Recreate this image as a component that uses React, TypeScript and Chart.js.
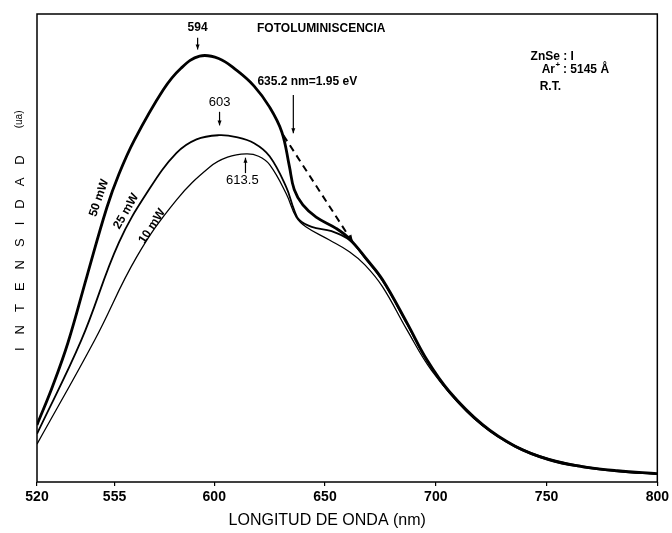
import React, { useEffect, useRef } from "react";
import { Chart, registerables } from "chart.js";

Chart.register(...registerables);

// ---- Data (wavelength in nm, intensity in arbitrary units) ----
const wavelength50 = [520, 527, 534, 542.5, 551.5, 557, 564, 577, 585, 593.4, 602, 610, 618, 625, 630.5, 633.9, 636.1, 640, 646, 655, 661, 669, 676, 687, 696, 706, 721, 736, 751, 766, 782, 800];
const intensity50 = [12.2, 20.4, 29.8, 43.9, 58.6, 65.8, 73.1, 83.8, 88.4, 91.0, 90.5, 88.0, 84.6, 80.1, 74.8, 67.5, 62.5, 59.2, 56.6, 54.2, 52.0, 47.5, 43.2, 34.0, 26.1, 19.4, 12.3, 7.6, 4.8, 3.3, 2.4, 1.8];

const wavelength25 = [520, 540, 557, 571, 583, 592, 602, 610, 618, 625, 632.5, 636.1, 638.4, 644, 653, 661, 669, 676, 687, 696, 706, 721, 736, 751, 766, 782, 800];
const intensity25 = [10.3, 30.3, 51.2, 62.8, 70.3, 73.2, 74.1, 73.7, 72.4, 69.6, 63.0, 58.1, 56.0, 54.5, 53.6, 51.7, 47.3, 43.0, 33.8, 25.9, 19.2, 12.1, 7.5, 4.7, 3.2, 2.3, 1.7];

const wavelength10 = [520, 546, 565, 583, 598, 606, 614.5, 620, 625, 632.5, 637, 641.5, 652, 661, 668, 676, 687, 698, 714, 728, 743, 759, 780, 800];
const intensity10 = [8.1, 30.3, 48.1, 60.3, 67.3, 69.4, 70.1, 69.6, 67.8, 61.6, 56.6, 54.5, 51.7, 49.2, 46.4, 41.7, 32.5, 23.9, 15.0, 9.8, 6.3, 4.1, 2.5, 1.7];

const seriesLabels = ["50 mW", "25 mW", "10 mW"];
const xTickValues = [520, 555, 600, 650, 700, 750, 800];
const peakLabels = ["594", "603", "613.5"];
const transitionLabel = "635.2 nm=1.95 eV";
const chartTitle = "FOTOLUMINISCENCIA";
const sampleLines = ["ZnSe : I", "Ar", "R.T."];
const laserLine = " : 5145 Å";
const xTitle = "LONGITUD DE ONDA (nm)";
const yTitle = "INTENSIDAD";
const yUnit = "(ua)";

const FONT = "'Liberation Sans', Arial, sans-serif";

function arrow(ctx: CanvasRenderingContext2D, x1: number, y1: number, x2: number, y2: number, head = 5, half = 2) {
  ctx.beginPath();
  ctx.moveTo(x1, y1);
  ctx.lineTo(x2, y2);
  ctx.stroke();
  const ang = Math.atan2(y2 - y1, x2 - x1);
  ctx.save();
  ctx.setLineDash([]);
  ctx.translate(x2, y2);
  ctx.rotate(ang);
  ctx.beginPath();
  ctx.moveTo(0, 0);
  ctx.lineTo(-head, -half);
  ctx.lineTo(-head, half);
  ctx.closePath();
  ctx.fill();
  ctx.restore();
}

const annotationPlugin = {
  id: "annotations",
  afterDraw(chart: any) {
    const { ctx, chartArea: a, scales } = chart;
    const X = (v: number) => scales.x.getPixelForValue(v);
    const Y = (v: number) => scales.y.getPixelForValue(v);
    ctx.save();
    ctx.fillStyle = "#000";
    ctx.strokeStyle = "#000";

    // frame
    ctx.lineWidth = 1.5;
    ctx.strokeRect(a.left, a.top, a.right - a.left, a.bottom - a.top);

    const text = (s: string, x: number, y: number, font: string, align: CanvasTextAlign = "center") => {
      ctx.font = font;
      ctx.textAlign = align;
      ctx.textBaseline = "middle";
      ctx.fillText(s, x, y);
    };

    // title texts
    text(chartTitle, X(648.3), Y(96.8), `bold 12px ${FONT}`);
    text(transitionLabel, X(642.0), Y(85.5), `bold 12px ${FONT}`);

    // peak labels and arrows
    ctx.lineWidth = 1.2;
    text(peakLabels[0], X(592.5), Y(97.0), `bold 12px ${FONT}`);
    arrow(ctx, X(592.5), Y(94.9), X(592.5), Y(92.4));
    text(peakLabels[1], X(602.4), Y(81.2), `13px ${FONT}`);
    arrow(ctx, X(602.4), Y(79.1), X(602.4), Y(76.2));
    text(peakLabels[2], X(612.7), Y(64.5), `13px ${FONT}`);
    arrow(ctx, X(614.1), Y(66.0), X(614.1), Y(69.3));
    arrow(ctx, X(635.7), Y(82.7), X(635.7), Y(74.5));

    // dashed arrow
    ctx.lineWidth = 2;
    ctx.setLineDash([7, 5]);
    arrow(ctx, X(631.2), Y(74.1), X(662.7), Y(51.1), 8, 3);
    ctx.setLineDash([]);

    // sample info
    text(sampleLines[0], X(742.8), Y(90.8), `bold 12px ${FONT}`, "left");
    const arX = X(747.8);
    text(sampleLines[1], arX, Y(88.0), `bold 12px ${FONT}`, "left");
    ctx.font = `bold 12px ${FONT}`;
    const arW = ctx.measureText(sampleLines[1]).width;
    text("+", arX + arW + 0.5, Y(88.0) - 5, `bold 8px ${FONT}`, "left");
    ctx.font = `bold 8px ${FONT}`;
    const plusW = ctx.measureText("+").width;
    text(laserLine, arX + arW + plusW, Y(88.0), `bold 12px ${FONT}`, "left");
    text(sampleLines[2], X(746.9), Y(84.4), `bold 12px ${FONT}`, "left");

    // rotated series labels
    const rot = [
      { s: seriesLabels[0], x: 549.3, y: 60.5, ang: -71 },
      { s: seriesLabels[1], x: 561.4, y: 57.5, ang: -60 },
      { s: seriesLabels[2], x: 573.1, y: 54.3, ang: -57 },
    ];
    for (const r of rot) {
      ctx.save();
      ctx.translate(X(r.x), Y(r.y));
      ctx.rotate((r.ang * Math.PI) / 180);
      text(r.s, 0, -3, `bold 12px ${FONT}`);
      ctx.restore();
    }

    // x title
    text(xTitle, X(651), a.bottom + 39, `16px ${FONT}`);

    // y title, letter-spaced
    ctx.save();
    ctx.translate(a.left - 17, a.bottom - 131);
    ctx.rotate(-Math.PI / 2);
    ctx.font = `13px ${FONT}`;
    ctx.textAlign = "left";
    ctx.textBaseline = "middle";
    let cx = 0;
    for (const ch of yTitle) {
      ctx.fillText(ch, cx, 0);
      cx += ctx.measureText(ch).width + 13;
    }
    cx += 14;
    ctx.font = `10px ${FONT}`;
    ctx.fillText(yUnit, cx, -1);
    ctx.restore();

    ctx.restore();
  },
};

export default function App() {
  const ref = useRef<HTMLCanvasElement>(null);
  useEffect(() => {
    const canvas = ref.current!;
    const mk = (xs: number[], ys: number[]) => xs.map((x, i) => ({ x, y: ys[i] }));
    const common = { pointRadius: 0, borderColor: "#000", fill: false, tension: 0.4 };
    const chart = new Chart(canvas, {
      type: "line",
      data: {
        datasets: [
          { label: seriesLabels[0], data: mk(wavelength50, intensity50), borderWidth: 2.8, ...common },
          { label: seriesLabels[1], data: mk(wavelength25, intensity25), borderWidth: 1.8, ...common },
          { label: seriesLabels[2], data: mk(wavelength10, intensity10), borderWidth: 1.3, ...common },
        ],
      },
      options: {
        responsive: false,
        animation: false,
        devicePixelRatio: 1,
        layout: { padding: { left: 0, top: 14, right: 13, bottom: 0 } },
        plugins: { legend: { display: false }, tooltip: { enabled: false }, title: { display: false } },
        scales: {
          x: {
            type: "linear",
            min: 520,
            max: 800,
            afterBuildTicks: (s: any) => {
              s.ticks = xTickValues.map((v) => ({ value: v }));
            },
            afterFit: (s: any) => {
              s.height = 51;
            },
            ticks: {
              font: { family: FONT, size: 14, weight: "bold" },
              color: "#000",
              padding: 3,
              maxRotation: 0,
              autoSkip: false,
              callback: (v: any) => String(v),
            },
            grid: { display: true, drawOnChartArea: false, drawTicks: true, tickLength: 4, color: "#000", lineWidth: 1.2 },
            border: { display: false },
          },
          y: {
            type: "linear",
            min: 0,
            max: 100,
            afterFit: (s: any) => {
              s.width = 37;
            },
            ticks: { display: false },
            grid: { display: false },
            border: { display: false },
          },
        },
      },
      plugins: [annotationPlugin],
    });
    return () => chart.destroy();
  }, []);
  return (
    <div style={{ position: "absolute", left: 0, top: 0, width: 672, height: 533, background: "#fff" }}>
      <canvas ref={ref} width={672} height={533} style={{ display: "block" }} />
    </div>
  );
}
